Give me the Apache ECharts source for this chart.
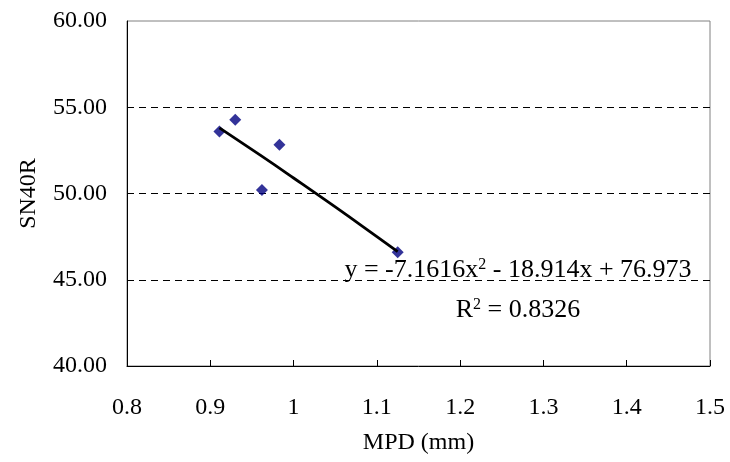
<!DOCTYPE html>
<html>
<head>
<meta charset="utf-8">
<script src="https://cdn.jsdelivr.net/npm/echarts@6/dist/echarts.min.js"></script>
<style>
html,body{margin:0;padding:0;background:#fff;}
#chart{width:730px;height:462px;}
</style>
</head>
<body>
<div id="chart"></div>
<script>
// Data
var mpdValues = [0.911, 0.930, 0.962, 0.983, 1.125];
var sn40rValues = [53.60, 54.28, 50.20, 52.82, 46.60];
// Trend line (polynomial fit shown in the chart)
var trendX = [0.911, 0.96, 1.00, 1.05, 1.10, 1.125];
var trendY = [53.80, 52.22, 50.90, 49.22, 47.50, 46.63];
var xTicks = ['0.8', '0.9', '1', '1.1', '1.2', '1.3', '1.4', '1.5'];
var yTicks = ['40.00', '45.00', '50.00', '55.00', '60.00'];
var equationText = 'y = -7.1616x{sup|2} - 18.914x + 76.973';
var r2Text = 'R{sup|2} = 0.8326';

var FONT = '"Liberation Serif", "Times New Roman", serif';

var scatterData = mpdValues.map(function (v, i) { return [v, sn40rValues[i]]; });
var trendData = trendX.map(function (v, i) { return [v, trendY[i]]; });

var chart = echarts.init(document.getElementById('chart'), null, {renderer: 'canvas'});
chart.setOption({
  animation: false,
  backgroundColor: '#fff',
  grid: {
    left: 127, right: 20, top: 21, bottom: 96,
    show: true, borderColor: '#808080', borderWidth: 1, backgroundColor: 'transparent'
  },
  xAxis: {
    type: 'value', min: 0.8, max: 1.5, interval: 0.1,
    name: 'MPD (mm)', nameLocation: 'middle', nameGap: 65,
    nameTextStyle: {fontFamily: FONT, fontSize: 24, color: '#000'},
    axisLine: {show: true, onZero: false, lineStyle: {color: '#000', width: 1}},
    axisTick: {show: true, inside: true, length: 6, lineStyle: {color: '#000'}},
    axisLabel: {
      margin: 30, fontFamily: FONT, fontSize: 24, color: '#000',
      formatter: function (v) {
        var idx = Math.round((v - 0.8) / 0.1);
        return xTicks[idx] !== undefined ? xTicks[idx] : '';
      }
    },
    splitLine: {show: false}
  },
  yAxis: {
    type: 'value', min: 40, max: 60, interval: 5,
    name: 'SN40R', nameLocation: 'middle', nameGap: 86, nameRotate: 90,
    nameTextStyle: {fontFamily: FONT, fontSize: 24, color: '#000'},
    axisLine: {show: true, onZero: false, lineStyle: {color: '#000', width: 1}},
    axisTick: {show: false},
    axisLabel: {
      margin: 20, fontFamily: FONT, fontSize: 24, color: '#000',
      formatter: function (v) {
        var idx = Math.round((v - 40) / 5);
        return yTicks[idx] !== undefined ? yTicks[idx] : '';
      }
    },
    splitLine: {
      show: true,
      lineStyle: {
        color: ['rgba(0,0,0,0)', '#000', '#000', '#000', 'rgba(0,0,0,0)'],
        type: [7, 5], width: 1
      }
    }
  },
  series: [
    {
      type: 'scatter', data: scatterData, symbol: 'diamond', symbolSize: 12,
      itemStyle: {color: '#000080'}, z: 3
    },
    {
      type: 'line', data: trendData, smooth: true, showSymbol: false,
      lineStyle: {color: '#000', width: 2.8}, z: 4
    }
  ],
  graphic: [
    {
      type: 'text', x: 518, y: 270, z: 10,
      style: {
        text: equationText, textAlign: 'center', textVerticalAlign: 'middle',
        fontFamily: FONT, fontSize: 26, fill: '#000',
        rich: {sup: {fontFamily: FONT, fontSize: 16, verticalAlign: 'top', fill: '#000'}}
      }
    },
    {
      type: 'text', x: 518, y: 310, z: 10,
      style: {
        text: r2Text, textAlign: 'center', textVerticalAlign: 'middle',
        fontFamily: FONT, fontSize: 26, fill: '#000',
        rich: {sup: {fontFamily: FONT, fontSize: 16, verticalAlign: 'top', fill: '#000'}}
      }
    }
  ]
});
</script>
</body>
</html>
